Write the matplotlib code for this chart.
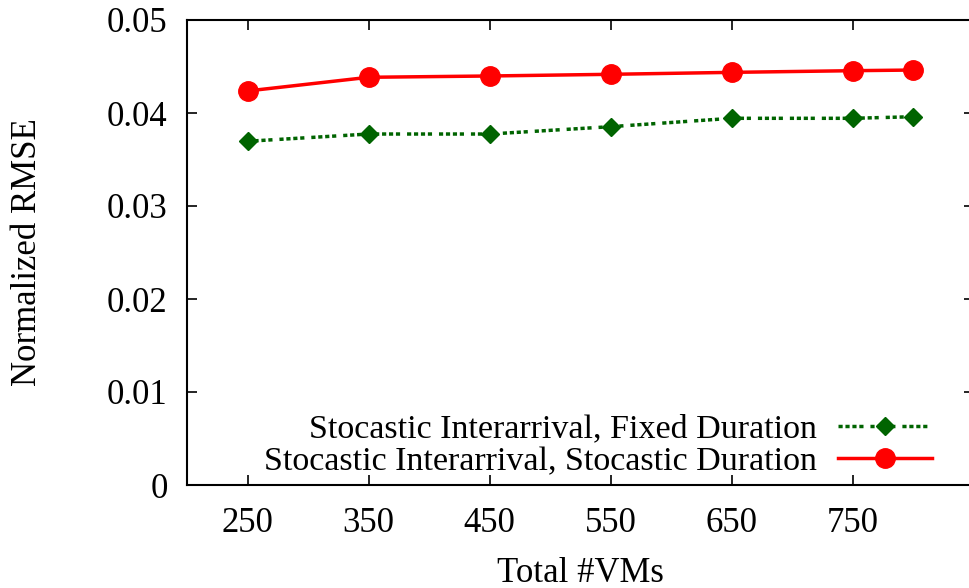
import numpy as np
import matplotlib
matplotlib.use('Agg')
import matplotlib.pyplot as plt

plt.rcParams['font.family'] = ['Liberation Serif', 'DejaVu Serif']

vms = [250, 350, 450, 550, 650, 750, 800]
fixed_dur = [0.03696, 0.03774, 0.03774, 0.03853, 0.03943, 0.03943, 0.0396]
stoc_dur = [0.04237, 0.04384, 0.04398, 0.04416, 0.04437, 0.04455, 0.04462]
xticks = [250, 350, 450, 550, 650, 750]
yticks = [0, 0.01, 0.02, 0.03, 0.04, 0.05]
ytick_labels = ['0', '0.01', '0.02', '0.03', '0.04', '0.05']

fig = plt.figure(figsize=(9.69, 5.88), dpi=100)
ax = fig.add_axes([187/969, 1-485/588, (974-187)/969, (485-20)/588])

ax.plot(vms, fixed_dur, color='#006400', lw=2.5, dashes=(1.2, 0.8, 1.2, 0.8, 1.2, 0.8, 1.2, 2.0),
        marker='D', ms=9, label='Stocastic Interarrival, Fixed Duration')
ax.plot(vms, stoc_dur, color='#ff0000', lw=2.5, marker='o', ms=14,
        label='Stocastic Interarrival, Stocastic Duration')

ax.set_xlim(200, 850)
ax.set_ylim(0, 0.05)
ax.set_xticks(xticks)
ax.set_yticks(yticks)
ax.set_yticklabels(ytick_labels)
ax.tick_params(direction='in', top=True, right=True, length=7, width=1.2, labelsize=25)
ax.tick_params(axis='x', pad=16)
ax.tick_params(axis='y', pad=14)
for s in ax.spines.values():
    s.set_linewidth(1.5)

ax.set_xlabel('Total #VMs', fontsize=25, va='top')
ax.xaxis.set_label_coords(0.5, -0.155)
ax.set_ylabel('Normalized RMSE', fontsize=25)
ax.yaxis.set_label_coords(-0.182, 0.5)

ax.legend(loc='lower right', bbox_to_anchor=(0.947, 0.017), frameon=False, markerfirst=False,
          fontsize=24.5, handlelength=2.76, handletextpad=0.62, labelspacing=0.05, borderpad=0,
          borderaxespad=0)

fig.savefig('out.png', dpi=100)
